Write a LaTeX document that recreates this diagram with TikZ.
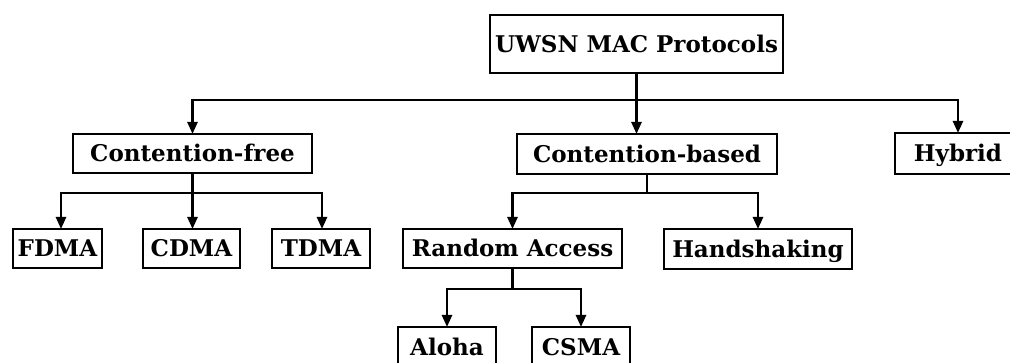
\documentclass[tikz,border=0pt]{standalone}
\usepackage{fontspec}
\setmainfont{DejaVu Serif}
\usetikzlibrary{arrows.meta}
\begin{document}
\begin{tikzpicture}[x=1pt,y=-1pt,inner sep=0pt,outer sep=0pt,line width=2.5pt,
>={Triangle[length=12pt,width=10pt]},
macblock/.style={draw,rectangle,minimum height=39pt,text height=16.8pt,text depth=0pt,font=\fontsize{23}{27}\selectfont\bfseries}]
\useasboundingbox (0,0) rectangle (1010,363);
\draw (636.5,44) node[macblock,minimum width=293pt,minimum height=58pt] (root) {UWSN MAC Protocols};
\draw (192.5,153.5) node[macblock,minimum width=239pt] (cfree) {Contention-free};
\draw (647,154) node[macblock,minimum width=260pt,minimum height=40pt] (cbased) {Contention-based};
\draw (958,153.5) node[macblock,minimum width=126pt,minimum height=41pt] (hybrid) {Hybrid};
\draw (57.5,248.5) node[macblock,minimum width=89pt] (fdma) {FDMA};
\draw (191.5,248.5) node[macblock,minimum width=97pt] (cdma) {CDMA};
\draw (321,248.5) node[macblock,minimum width=98pt] (tdma) {TDMA};
\draw (512.5,248.5) node[macblock,minimum width=219pt] (random) {Random Access};
\draw (758,249) node[macblock,minimum width=188pt,minimum height=40pt] (hand) {Handshaking};
\draw (447,347) node[macblock,minimum width=98pt,minimum height=40pt] (aloha) {Aloha};
\draw (581,347) node[macblock,minimum width=98pt,minimum height=40pt] (csma) {CSMA};
% top level
\draw (root.south) -- ++(0,27) coordinate (rootj);
\draw[->] (rootj) -| (cfree.north);
\draw[->] (rootj) -- (rootj |- cbased.north);
\draw[->] (rootj) -| (hybrid.north);
% contention-free
\draw (cfree.south) -- ++(0,20) coordinate (cfreej);
\draw[->] (cfreej) -| ([xshift=3.5pt]fdma.north);
\draw[->] (cfreej) -- (cfreej |- cdma.north);
\draw[->] (cfreej) -| ([xshift=1pt]tdma.north);
% contention-based
\draw (cbased.south) -- ++(0,19) coordinate (cbasedj);
\draw[->] (cbasedj) -| (random.north);
\draw[->] (cbasedj) -| (hand.north);
% random access
\draw (random.south) -- ++(0,21) coordinate (randomj);
\draw[->] (randomj) -| (aloha.north);
\draw[->] (randomj) -| (csma.north);
\end{tikzpicture}
\end{document}
